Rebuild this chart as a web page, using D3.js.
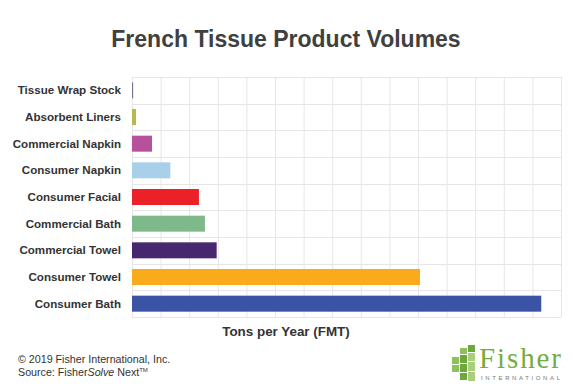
<!DOCTYPE html>
<html>
<head>
<meta charset="UTF-8">
<title>French Tissue Product Volumes</title>
<script src="https://cdnjs.cloudflare.com/ajax/libs/d3/7.8.5/d3.min.js"></script>
<style>
  body { margin: 0; background: #fff; }
  svg { font-family: "Liberation Sans", Arial, sans-serif; display: block; }
  .cat-label { font-size: 11.6px; font-weight: bold; fill: #333; }
  .grid line { stroke: #e6e6e6; stroke-width: 1; }
</style>
</head>
<body>
<div id="chart"></div>
<script>
// categories, top to bottom
const categories = ["Tissue Wrap Stock", "Absorbent Liners", "Commercial Napkin", "Consumer Napkin",
  "Consumer Facial", "Commercial Bath", "Commercial Towel", "Consumer Towel", "Consumer Bath"];
// volumes in grid units (no tick labels in the source)
const volumes = [0.04, 0.14, 0.70, 1.34, 2.34, 2.55, 2.96, 10.07, 14.31];
const barColors = ["#77788f", "#b9b84e", "#b8519d", "#a8d0e8", "#ec2027", "#7db98a", "#47276d", "#f9ab1c", "#3b53a4"];
const gridTicks = d3.range(0, 16);

const width = 574, height = 390;
const margin = {top: 77, right: 13, bottom: 73, left: 132};
const innerW = width - margin.left - margin.right;
const innerH = height - margin.top - margin.bottom;

const svg = d3.select("#chart").append("svg")
  .attr("width", width)
  .attr("height", height);

svg.append("text")
  .attr("x", 286).attr("y", 47)
  .attr("text-anchor", "middle")
  .style("font-size", "23px").style("font-weight", "bold")
  .style("fill", "#404040")
  .text("French Tissue Product Volumes");

const g = svg.append("g").attr("transform", `translate(${margin.left},${margin.top})`);

const x = d3.scaleLinear().domain([0, 15]).range([0, innerW]);
const y = d3.scaleBand().domain(categories).range([0, innerH]).paddingInner(0.4).paddingOuter(0.2);

// vertical grid
g.append("g").attr("class", "grid")
  .selectAll("line").data(gridTicks).join("line")
  .attr("x1", d => x(d) + 0.5).attr("x2", d => x(d) + 0.5)
  .attr("y1", 0).attr("y2", innerH);

// horizontal grid at band boundaries
const bounds = d3.range(0, categories.length + 1);
g.append("g").attr("class", "grid")
  .selectAll("line").data(bounds).join("line")
  .attr("x1", 0).attr("x2", innerW)
  .attr("y1", d => Math.round(d * innerH / categories.length) + 0.5)
  .attr("y2", d => Math.round(d * innerH / categories.length) + 0.5);

// bars
g.selectAll("rect.bar").data(categories).join("rect")
  .attr("class", "bar")
  .attr("x", x(0))
  .attr("y", d => y(d))
  .attr("height", y.bandwidth())
  .attr("width", (d, i) => Math.max(1, x(volumes[i]) - x(0)))
  .attr("fill", (d, i) => barColors[i]);

// category labels
g.selectAll("text.cat-label").data(categories).join("text")
  .attr("class", "cat-label")
  .attr("x", -11)
  .attr("y", d => y(d) + y.bandwidth() / 2)
  .attr("dy", "0.35em")
  .attr("text-anchor", "end")
  .text(d => d);

// axis title
svg.append("text")
  .attr("x", 286).attr("y", 336)
  .attr("text-anchor", "middle")
  .style("font-size", "13.4px").style("font-weight", "bold")
  .style("fill", "#333")
  .text("Tons per Year (FMT)");

// footer
svg.append("text")
  .attr("x", 18).attr("y", 363)
  .style("font-size", "10.7px").style("fill", "#333")
  .text("\u00a9 2019 Fisher International, Inc.");
const src = svg.append("text")
  .attr("x", 18).attr("y", 376)
  .style("font-size", "10.7px").style("fill", "#333");
src.append("tspan").text("Source: Fisher");
src.append("tspan").style("font-style", "italic").text("Solve");
src.append("tspan").text(" Next");
src.append("tspan").attr("dy", -4).style("font-size", "6px").text("TM");

// logo
const logo = svg.append("g").attr("transform", "translate(452,345)");
const blocks = [
  [16, 0, 7, 7], [8, 3, 7, 6], [16, 8, 7, 8], [8, 10, 7, 8], [0, 12, 7, 7],
  [16, 17, 7, 9], [8, 19, 7, 8], [0, 20, 7, 7], [16, 27, 7, 9], [8, 28, 7, 7]
];
logo.selectAll("rect").data(blocks).join("rect")
  .attr("x", d => d[0]).attr("y", d => d[1])
  .attr("width", d => d[2]).attr("height", d => d[3])
  .attr("fill", (d, i) => i % 3 === 0 ? "#6ea83a" : (i % 3 === 1 ? "#8dc15a" : "#a9cf7d"));
svg.append("text")
  .attr("x", 479).attr("y", 368)
  .style("font-family", "'Liberation Serif', 'DejaVu Serif', serif")
  .style("font-size", "29px").style("fill", "#76ad3e")
  .attr("textLength", 82)
  .text("Fisher");
svg.append("text")
  .attr("x", 481).attr("y", 380)
  .style("font-size", "6px").style("fill", "#777")
  .attr("textLength", 79)
  .text("INTERNATIONAL");
</script>
</body>
</html>
